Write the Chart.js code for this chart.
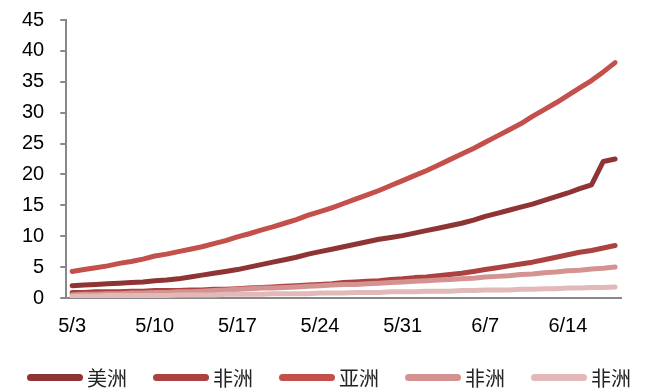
<!DOCTYPE html>
<html>
<head>
<meta charset="utf-8">
<script src="https://cdn.jsdelivr.net/npm/chart.js@4/dist/chart.umd.min.js"></script>
<style>
  html, body { margin: 0; padding: 0; background: #fff; }
  #wrap { position: relative; width: 645px; height: 390px; }
  #legend { position: absolute; left: 27px; top: 363px; height: 28px; display: flex; font-family: "Noto Sans CJK SC", sans-serif; font-size: 20px; color: #222; }
  .item { display: flex; align-items: center; width: 126px; }
  .swatch { width: 56px; height: 7px; border-radius: 3.5px; margin-right: 4px; }
</style>
</head>
<body>
<div id="wrap">
  <canvas id="chart"></canvas>
  <div id="legend"></div>
</div>
<script>
// dates 5/3 - 6/18
const dates = [];
for (let d = 3; d <= 31; d++) dates.push('5/' + d);
for (let d = 1; d <= 18; d++) dates.push('6/' + d);

const seriesNames = ['美洲', '非洲', '亚洲', '非洲', '非洲'];

const america = [
  2.0, 2.1, 2.2, 2.3, 2.4, 2.5, 2.6, 2.8,
  2.9, 3.1, 3.4, 3.7, 4.0, 4.3, 4.6,
  5.0, 5.4, 5.8, 6.2, 6.6, 7.1, 7.5,
  7.9, 8.3, 8.7, 9.1, 9.5, 9.8, 10.1,
  10.5, 10.9, 11.3, 11.7, 12.1, 12.6, 13.2,
  13.7, 14.2, 14.7, 15.2, 15.8, 16.4, 17.0,
  17.7, 18.3, 22.1, 22.5
];
const africa = [
  0.9, 0.9, 1.0, 1.0, 1.0, 1.1, 1.1, 1.2,
  1.2, 1.2, 1.3, 1.3, 1.4, 1.4, 1.5,
  1.6, 1.7, 1.8, 1.9, 2.0, 2.1, 2.2,
  2.3, 2.5, 2.6, 2.7, 2.8, 3.0, 3.1,
  3.3, 3.4, 3.6, 3.8, 4.0, 4.3, 4.6,
  4.9, 5.2, 5.5, 5.8, 6.2, 6.6, 7.0,
  7.4, 7.7, 8.1, 8.5
];
const asia = [
  4.3, 4.6, 4.9, 5.2, 5.6, 5.9, 6.3, 6.8,
  7.1, 7.5, 7.9, 8.3, 8.8, 9.3, 9.9,
  10.4, 11.0, 11.5, 12.1, 12.7, 13.4, 14.0,
  14.6, 15.3, 16.0, 16.7, 17.4, 18.2, 19.0,
  19.8, 20.6, 21.5, 22.4, 23.3, 24.2, 25.2,
  26.2, 27.2, 28.2, 29.4, 30.5, 31.6, 32.8,
  34.0, 35.2, 36.6, 38.1
];
const africa2 = [
  0.5, 0.6, 0.6, 0.7, 0.7, 0.8, 0.8, 0.9,
  0.9, 1.0, 1.0, 1.1, 1.2, 1.3, 1.4,
  1.5, 1.6, 1.6, 1.7, 1.8, 1.9, 2.0,
  2.1, 2.2, 2.2, 2.3, 2.4, 2.5, 2.6,
  2.7, 2.8, 2.9, 3.0, 3.1, 3.2, 3.4,
  3.5, 3.6, 3.8, 3.9, 4.1, 4.2, 4.4,
  4.5, 4.7, 4.8, 5.0
];
const africa3 = [
  0.3, 0.3, 0.3, 0.4, 0.4, 0.4, 0.4, 0.4,
  0.4, 0.5, 0.5, 0.5, 0.5, 0.6, 0.6,
  0.6, 0.6, 0.7, 0.7, 0.7, 0.7, 0.8,
  0.8, 0.8, 0.9, 0.9, 0.9, 1.0, 1.0,
  1.0, 1.1, 1.1, 1.1, 1.2, 1.2, 1.3,
  1.3, 1.3, 1.4, 1.4, 1.5, 1.5, 1.6,
  1.6, 1.7, 1.7, 1.8
];

const yTicks = [0, 5, 10, 15, 20, 25, 30, 35, 40, 45];
const colors = ['#8e3434', '#ab423f', '#c4504c', '#d49391', '#e2b9b8'];
const values = [america, africa, asia, africa2, africa3];

const datasets = values.map((v, i) => ({
  label: seriesNames[i],
  data: v,
  borderColor: colors[i],
  backgroundColor: colors[i],
  borderWidth: 5,
  borderCapStyle: 'round',
  borderJoinStyle: 'round',
  pointRadius: 0,
  tension: 0,
  order: 5 - i,
}));

// legend row under the plot
document.getElementById('legend').innerHTML = seriesNames
  .map((name, i) => `<div class="item"><span class="swatch" style="background:${colors[i]}"></span>${name}</div>`)
  .join('');

const tickFont = { family: '"Liberation Sans", Arial', size: 20 };

new Chart(document.getElementById('chart'), {
  type: 'line',
  data: { labels: dates, datasets },
  options: {
    responsive: true,
    maintainAspectRatio: false,
    animation: false,
    layout: { padding: { left: 6, right: 24, top: 0, bottom: 36 } },
    plugins: {
      tooltip: { enabled: false },
      legend: { display: false },
    },
    scales: {
      x: {
        offset: true,
        grid: { display: true, drawOnChartArea: false, drawTicks: false, color: '#888' },
        border: { color: '#888', width: 2 },
        ticks: {
          autoSkip: false,
          maxRotation: 0,
          padding: 16,
          color: '#000',
          font: tickFont,
          callback: (v, i) => (i % 7 === 0 ? dates[i] : ''),
        },
      },
      y: {
        min: 0,
        max: 45,
        afterBuildTicks: axis => { axis.ticks = yTicks.map(v => ({ value: v })); },
        // keep the top tick close to the canvas edge
        afterFit: axis => { axis.paddingTop = 20; },
        grid: { drawOnChartArea: false, tickLength: 6, color: '#888', lineWidth: 2 },
        border: { color: '#888', width: 2 },
        ticks: {
          padding: 16,
          color: '#000',
          font: tickFont,
        },
      },
    },
  },
});
</script>
</body>
</html>
